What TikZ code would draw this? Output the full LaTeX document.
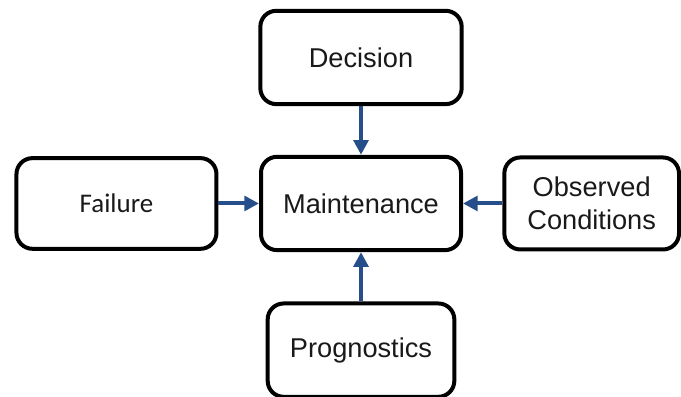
\documentclass[tikz,border=0pt]{standalone}
\usepackage{fontspec}
\setmainfont{Liberation Sans}
\newfontfamily\failfont{Carlito}
\usepackage{xcolor}
\usepackage{tikz}
\usetikzlibrary{arrows.meta,positioning}
\definecolor{flowblue}{RGB}{38,78,138}

\begin{document}
\begin{tikzpicture}[on grid,
    box/.style={rectangle, rounded corners=12pt, draw, line width=3pt, minimum height=70pt,
        align=center, text=black!90, font=\fontsize{20.4}{24.8}\selectfont},
    flow/.style={-{Triangle[length=11pt,width=11pt]}, line width=3pt, flowblue}
]
    \useasboundingbox (0,0) rectangle (510.75pt,-297pt);

    % Central node
    \node[box, minimum width=150pt] (maint) at (270.75pt,-152.6pt) {Maintenance};

    % Surrounding nodes
    \node[box, minimum width=151pt, above=109.5pt of maint] (decision) {Decision};
    \node[box, minimum width=150pt, minimum height=68pt, left=183.4pt of maint,
        font=\failfont\fontsize{20.2}{24}\selectfont] (failure) {Failure};
    \node[box, minimum width=131pt, minimum height=69pt, right=173pt of maint] (observed) {Observed\\Conditions};
    \node[box, minimum width=140pt, below=110pt of maint] (prog) {Prognostics};

    % Draw arrows
    \draw[flow] (decision) -- (maint);
    \draw[flow] (failure) -- (maint);
    \draw[flow] (observed) -- (maint);
    \draw[flow] (prog) -- (maint);
\end{tikzpicture}
\end{document}
